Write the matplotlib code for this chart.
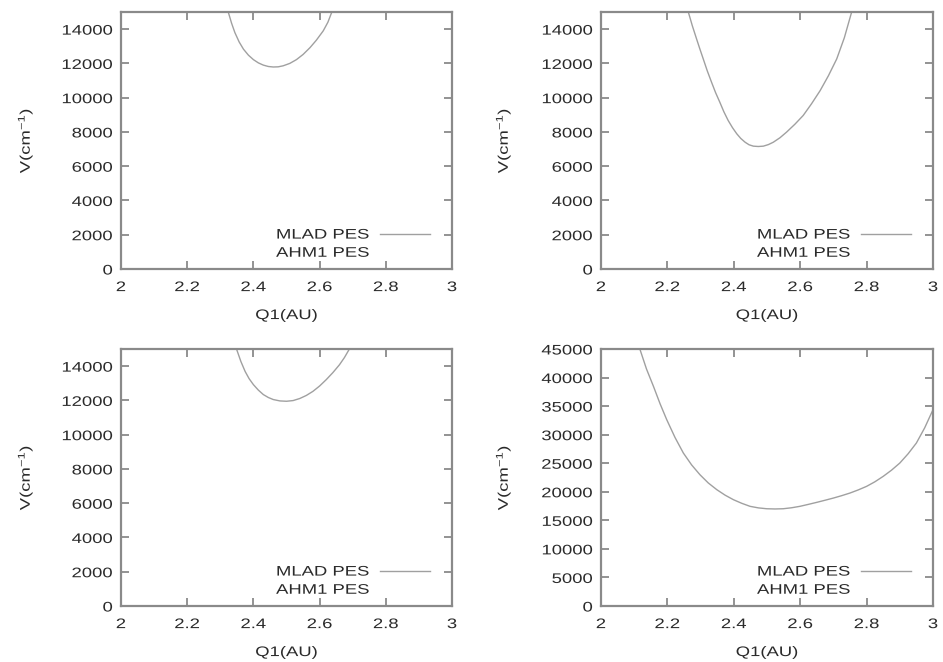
import matplotlib
matplotlib.use("Agg")
import matplotlib.pyplot as plt
from matplotlib.lines import Line2D
from matplotlib.patheffects import AbstractPathEffect
from matplotlib.transforms import Affine2D

plt.rcParams['font.family'] = ['Liberation Sans', 'DejaVu Sans']
plt.rcParams['mathtext.fontset'] = 'custom'
plt.rcParams['mathtext.rm'] = 'Liberation Sans'
plt.rcParams['mathtext.it'] = 'Liberation Sans'

# ---- data ----
x_tl = [2.324, 2.334, 2.344, 2.357, 2.37, 2.385, 2.40, 2.415, 2.43, 2.445, 2.46,
        2.475, 2.49, 2.51, 2.53, 2.55, 2.571, 2.59, 2.611, 2.625, 2.637]
y_tl = [15000, 14350, 13800, 13250, 12830, 12480, 12220, 12030, 11900, 11820, 11790,
        11800, 11860, 12000, 12220, 12520, 12920, 13350, 13900, 14400, 15000]

x_tr = [2.263, 2.275, 2.288, 2.298, 2.308, 2.32, 2.333, 2.345, 2.358, 2.37, 2.383,
        2.396, 2.409, 2.421, 2.434, 2.446, 2.459, 2.474, 2.489, 2.504, 2.519, 2.539,
        2.559, 2.584, 2.609, 2.634, 2.66, 2.685, 2.71, 2.733, 2.755]
y_tr = [15000, 14200, 13420, 12830, 12260, 11570, 10900, 10300, 9730, 9180, 8670,
        8250, 7890, 7620, 7400, 7250, 7170, 7150, 7170, 7260, 7400, 7660,
        7990, 8450, 8960, 9640, 10410, 11280, 12260, 13500, 15000]

x_bl = [2.349, 2.362, 2.375, 2.387, 2.40, 2.415, 2.43, 2.445, 2.46, 2.48, 2.50,
        2.52, 2.54, 2.56, 2.58, 2.60, 2.62, 2.64, 2.66, 2.675, 2.69]
y_bl = [15000, 14280, 13690, 13270, 12920, 12600, 12340, 12170, 12050, 11970, 11950,
        11990, 12110, 12290, 12530, 12840, 13210, 13620, 14080, 14500, 15000]

x_br = [2.117, 2.137, 2.158, 2.178, 2.198, 2.223, 2.248, 2.273, 2.298, 2.323, 2.349,
        2.374, 2.399, 2.424, 2.449, 2.474, 2.499, 2.524, 2.549, 2.574, 2.599, 2.625,
        2.65, 2.675, 2.70, 2.725, 2.75, 2.775, 2.80, 2.825, 2.85, 2.875, 2.90, 2.925,
        2.95, 2.975, 3.0]
y_br = [45000, 41500, 38460, 35400, 32620, 29500, 26790, 24700, 22990, 21550, 20360,
        19400, 18610, 17980, 17450, 17180, 17030, 16990, 17030, 17200, 17450, 17800,
        18150, 18520, 18900, 19320, 19780, 20330, 20950, 21750, 22700, 23780, 25030, 26650,
        28540, 31200, 34370]

x_ticks = [2.0, 2.2, 2.4, 2.6, 2.8, 3.0]
x_ticklabels = ["2", "2.2", "2.4", "2.6", "2.8", "3"]
y_ticks_small = [0, 2000, 4000, 6000, 8000, 10000, 12000, 14000]
y_ticks_big = [0, 5000, 10000, 15000, 20000, 25000, 30000, 35000, 40000, 45000]

series_labels = ["MLAD PES", "AHM1 PES"]
x_label = "Q1(AU)"
y_label = "V(cm$^{-1}$)"


# ---- horizontal text stretch (reference font is a widened Helvetica) ----
class Stretch(AbstractPathEffect):
    def __init__(self, sx=1.33, anchor='center'):
        super().__init__()
        self.sx = sx
        self.anchor = anchor

    def draw_path(self, renderer, gc, tpath, affine, rgbFace=None):
        ext = tpath.get_extents()
        if self.anchor == 'left':
            cx = ext.x0
        elif self.anchor == 'right':
            cx = ext.x1
        else:
            cx = 0.5 * (ext.x0 + ext.x1)
        pre = Affine2D().translate(-cx, 0).scale(self.sx, 1).translate(cx, 0)
        renderer.draw_path(gc, tpath, pre + affine, rgbFace)


SX = 1.33
frame_col = '#8a8a8a'
curve_col = '#a0a0a0'
text_col = '#2a2a2a'
fs = 10

fig = plt.figure(figsize=(9.43, 6.62), dpi=100)
W, H = 943, 662


def axes_at(left, top, right, bottom):
    return fig.add_axes([left / W, 1 - bottom / H, (right - left) / W, (bottom - top) / H])


panels = [
    (axes_at(121, 12, 452, 269), x_tl, y_tl, 15000, y_ticks_small, -0.29),
    (axes_at(601, 12, 933, 269), x_tr, y_tr, 15000, y_ticks_small, -0.295),
    (axes_at(121, 349, 452, 606), x_bl, y_bl, 15000, y_ticks_small, -0.29),
    (axes_at(601, 349, 933, 606), x_br, y_br, 45000, y_ticks_big, -0.295),
]

for ax, xs, ys, ymax, yt, ylx in panels:
    ax.plot(xs, ys, color=curve_col, lw=1.0)
    ax.set_xlim(2.0, 3.0)
    ax.set_ylim(0, ymax)
    ax.set_xticks(x_ticks)
    ax.set_xticklabels(x_ticklabels)
    ax.set_yticks(yt)
    ax.set_yticklabels([str(v) for v in yt])
    ax.tick_params(direction='in', top=True, right=True, length=6, width=1.3,
                   color=frame_col, labelsize=fs, labelcolor=text_col)
    ax.tick_params(axis='x', pad=8)
    ax.tick_params(axis='y', pad=6)
    for s in ax.spines.values():
        s.set_color(frame_col)
        s.set_linewidth(1.6)
    for lbl in ax.get_xticklabels():
        lbl.set_path_effects([Stretch(SX, 'center')])
    for lbl in ax.get_yticklabels():
        lbl.set_path_effects([Stretch(SX, 'right')])

    ax.set_xlabel(x_label, fontsize=fs, color=text_col)
    ax.xaxis.set_label_coords(0.5, -0.152)
    ax.xaxis.label.set_path_effects([Stretch(SX, 'center')])

    ax.set_ylabel(y_label, fontsize=fs, color=text_col)
    ax.yaxis.label.set_va('center')
    ax.yaxis.set_label_coords(ylx, 0.5)
    ax.yaxis.label.set_path_effects([Stretch(SX, 'center')])

    handles = [Line2D([], [], color=curve_col, lw=1.0),
               Line2D([], [], color='none', lw=1.0)]
    leg = ax.legend(handles, series_labels, loc='lower right', bbox_to_anchor=(0.934, 0.036),
                    frameon=False, markerfirst=False, fontsize=fs, labelcolor=text_col,
                    handlelength=3.6, handletextpad=0.8, labelspacing=0.3,
                    borderaxespad=0, borderpad=0)
    for t in leg.get_texts():
        t.set_path_effects([Stretch(SX, 'right')])

fig.savefig("out.png", dpi=100)
